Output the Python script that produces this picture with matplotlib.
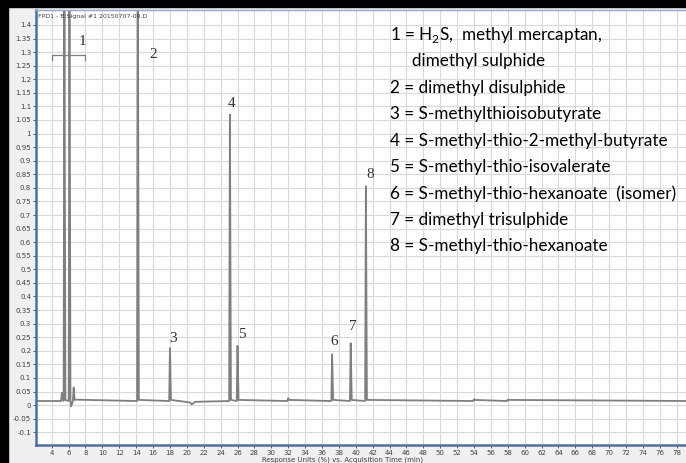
import numpy as np
import matplotlib.pyplot as plt
from matplotlib.ticker import FuncFormatter

# peaks of the FPD chromatogram: retention time (min), apex response
peak_time = [5.2, 5.5, 6.1, 6.6, 14.2, 18.0, 25.1, 26.0, 32.0, 37.2, 39.4, 41.2, 54.0, 58.0]
peak_height = [0.045, 1.6, 1.6, 0.065, 1.6, 0.21, 1.07, 0.218, 0.025, 0.187, 0.228, 0.806, 0.022, 0.02]
baseline = 0.015

# small baseline disturbances (time, value)
dip_time = [6.3, 6.9, 20.3, 20.6, 21.0]
dip_value = [-0.005, 0.02, 0.01, 0.003, 0.012]

peak_labels = ["1", "2", "3", "4", "5", "6", "7", "8"]
label_x = [7.6, 16.0, 18.4, 25.3, 26.5, 37.5, 39.6, 41.7]
label_y = [1.34, 1.29, 0.245, 1.11, 0.26, 0.235, 0.29, 0.85]

legend_lines = [
    "1 = H$_\\mathregular{2}$S,  methyl mercaptan,",
    "     dimethyl sulphide",
    "2 = dimethyl disulphide",
    "3 = S-methylthioisobutyrate",
    "4 = S-methyl-thio-2-methyl-butyrate",
    "5 = S-methyl-thio-isovalerate",
    "6 = S-methyl-thio-hexanoate  (isomer)",
    "7 = dimethyl trisulphide",
    "8 = S-methyl-thio-hexanoate",
]

# build trace as line vertices
pts = [(2.2, baseline), (79.5, baseline)]
for t, h in zip(peak_time, peak_height):
    pts += [(t - 0.09, baseline), (t, h), (t + 0.12, baseline + 0.004)]
for t, v in zip(dip_time, dip_value):
    pts.append((t, v))
pts.sort()
tx = [p[0] for p in pts]
ty = [p[1] for p in pts]

plt.rcParams['mathtext.fontset'] = 'custom'
plt.rcParams['mathtext.rm'] = 'Lato'

fig = plt.figure(figsize=(6.86, 4.63), dpi=100, facecolor="#f0f0f0")
# dark frame at left and top
fig.patches.append(plt.Rectangle((0, 0), 8 / 686, 1, transform=fig.transFigure, color="black", zorder=0))
fig.patches.append(plt.Rectangle((0, 1 - 7 / 463), 1, 7 / 463, transform=fig.transFigure, color="black", zorder=0))

ax = fig.add_axes([36 / 686, 18 / 463, 650 / 686, 435 / 463])
ax.set_facecolor("white")
ax.plot(tx, ty, color="#7f7f7f", lw=1.3)
ax.set_xlim(2.14, 79.1)
ax.set_ylim(-0.147, 1.455)

ax.set_xticks(np.arange(4, 79, 2))
ax.set_yticks(np.round(np.arange(-0.1, 1.401, 0.05), 2))
ax.yaxis.set_major_formatter(FuncFormatter(lambda v, p: "%g" % round(v, 2)))
ax.grid(True, color="#d8d8d8", lw=0.8)
ax.set_axisbelow(True)
ax.tick_params(labelsize=5, colors="#404040", length=2, width=0.6, pad=1.5)
for s in ["left", "bottom"]:
    ax.spines[s].set_color("#4a6fa5")
    ax.spines[s].set_linewidth(1.8)
ax.spines["top"].set_color("#8aa8d0")
ax.spines["top"].set_linewidth(1)
ax.spines["right"].set_visible(False)
fig.text(0.5, 3 / 463, "Response Units (%) vs. Acquisition Time (min)", fontsize=5, color="#404040",
         ha="center", va="center")

ax.text(2.4, 1.44, "FPD1 - B:Signal #1 20150707-09.D", fontsize=4.5, color="#404040", va="top")

# bracket over peak 1
ax.plot([4.07, 4.07, 7.94, 7.94], [1.27, 1.29, 1.29, 1.27], color="#7f7f7f", lw=0.9)

for lab, x, y in zip(peak_labels, label_x, label_y):
    ax.text(x, y, lab, fontsize=11, family="Liberation Serif", color="#333333", ha="center", va="center")

for i, line in enumerate(legend_lines):
    ypx = 35 + i * 26.4
    ax.text(44.05, (405 - ypx) / 271.4, line, fontsize=12.3, family="Lato", color="black", va="center")

fig.savefig("out.png", dpi=100, facecolor=fig.get_facecolor())
